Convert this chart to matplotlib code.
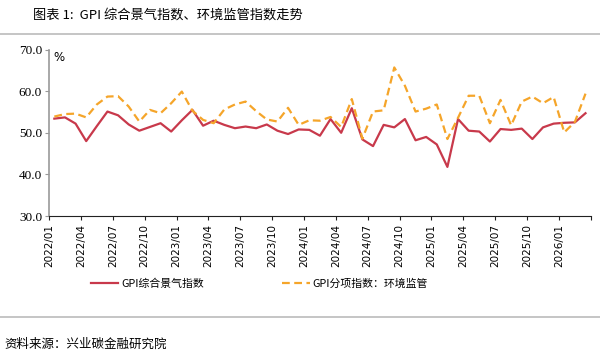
import matplotlib
matplotlib.use("Agg")
import numpy as np
import matplotlib.pyplot as plt
from matplotlib.lines import Line2D

# %% data
months = [f"{y}/{m:02d}" for y in range(2022, 2027) for m in range(1, 13)][:51]
tick_labels = months[::3]

gpi_total = [53.4, 53.7, 52.2, 48.0, 51.6, 55.1, 54.2, 52.0, 50.5, 51.4,
             52.3, 50.3, 53.0, 55.5, 51.7, 52.9, 51.9, 51.1, 51.5, 51.1,
             52.0, 50.5, 49.7, 50.8, 50.7, 49.3, 53.3, 50.0, 55.9, 48.4,
             46.8, 51.9, 51.3, 53.3, 48.2, 49.0, 47.2, 41.8, 53.3, 50.5,
             50.3, 47.9, 50.9, 50.7, 51.0, 48.5, 51.3, 52.2, 52.4, 52.5,
             54.7]
gpi_env = [53.9, 54.5, 54.6, 53.7, 56.8, 58.7, 58.8, 56.3, 52.7, 55.5,
           54.7, 57.1, 59.9, 55.3, 53.1, 52.3, 55.6, 56.8, 57.5, 55.2,
           53.2, 52.7, 56.0, 51.9, 53.0, 52.9, 53.8, 51.4, 58.1, 48.6,
           55.1, 55.4, 65.7, 61.3, 55.1, 55.8, 56.8, 48.5, 53.6, 58.9,
           58.9, 52.3, 57.9, 51.8, 57.5, 58.7, 57.1, 58.6, 50.1, 52.6,
           59.4]

# %% plot
cjk = ["Noto Sans CJK SC", "DejaVu Sans"]
red = "#C8394B"
orange = "#F5A52A"

fig = plt.figure(figsize=(6, 3.58), dpi=100)
ax = fig.add_axes([0.0817, 0.3966, 0.903, 0.465])

x = np.arange(len(months)) + 0.5
ax.plot(x, gpi_total, color=red, lw=1.6, label="GPI综合景气指数")
ax.plot(x, gpi_env, color=orange, lw=1.6, ls=(0, (3.5, 2)), label="GPI分项指数：环境监管")

ax.set_xlim(0, len(months))
ax.set_ylim(30, 70)
ax.set_yticks([30, 40, 50, 60, 70])
ax.set_yticklabels([f"{v:.1f}" for v in [30, 40, 50, 60, 70]], fontsize=9.5,
                   family="Liberation Serif")
ax.set_xticks(np.arange(0, len(months) + 1, 3))
ax.set_xticklabels(tick_labels + [""], rotation=90, fontsize=7.5)

for s in ["top", "right"]:
    ax.spines[s].set_visible(False)
ax.spines["left"].set_color("#999999")
ax.spines["left"].set_linewidth(1.2)
ax.spines["bottom"].set_color("#222222")
ax.tick_params(axis="y", length=3, color="#999999", pad=2)
ax.tick_params(axis="x", length=3, color="#222222", pad=3)

ax.text(0.008, 0.99, "%", transform=ax.transAxes, fontsize=8.5, va="top", ha="left")

handles = [Line2D([], [], color=red, lw=1.6),
           Line2D([], [], color=orange, lw=1.6, ls=(0, (3.5, 2)))]
fig.legend(handles, ["GPI综合景气指数", "GPI分项指数：环境监管"], ncol=2, frameon=False,
           loc="center", bbox_to_anchor=(0.433, 0.207), prop={"family": cjk, "size": 7.8},
           handlelength=2.5, handletextpad=0.3, columnspacing=7.2)

# title, separators and source
fig.text(0.055, 1 - 15 / 358, "图表 1:  GPI 综合景气指数、环境监管指数走势", family=cjk,
         fontsize=9.5, va="center", ha="left")
fig.add_artist(Line2D([0, 1], [1 - 33.5 / 358] * 2, color="#BBBBBB", lw=1.2))
fig.add_artist(Line2D([0, 1], [1 - 317 / 358] * 2, color="#BBBBBB", lw=1.2))
fig.text(0.008, 1 - 344 / 358, "资料来源：兴业碳金融研究院", family=cjk,
         fontsize=9, va="center", ha="left")

plt.savefig("out.png", dpi=100)
plt.close()
